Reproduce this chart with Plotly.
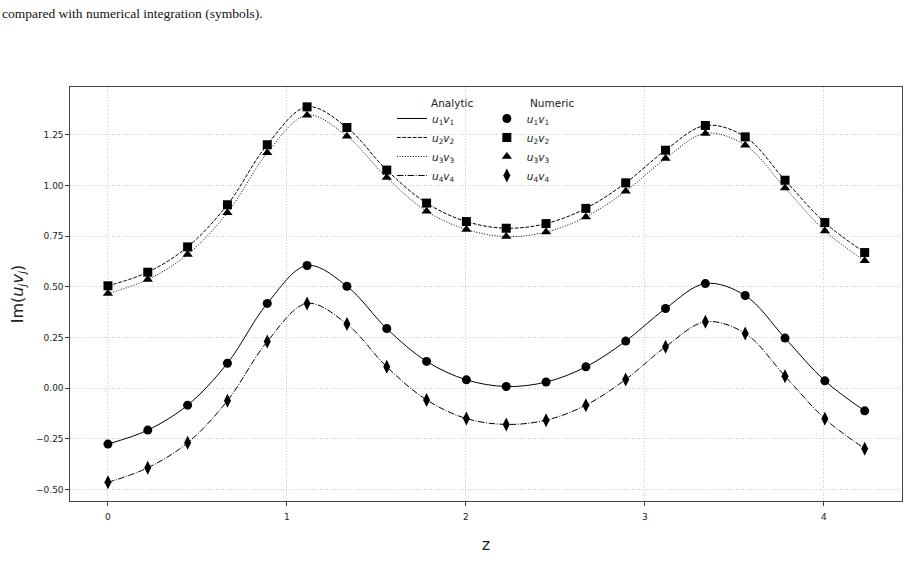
import plotly.graph_objects as go

# z sample positions
z = [0.0, 0.2225, 0.445, 0.6675, 0.89, 1.1125, 1.335, 1.5575, 1.78, 2.0025,
     2.225, 2.4475, 2.67, 2.8925, 3.115, 3.3375, 3.56, 3.7825, 4.005, 4.2275]

# Im(u_j v_j) values
u1v1 = [-0.276, -0.207, -0.084, 0.123, 0.418, 0.605, 0.503, 0.294, 0.132, 0.041,
        0.008, 0.030, 0.105, 0.232, 0.393, 0.516, 0.457, 0.247, 0.036, -0.112]
u2v2 = [0.505, 0.572, 0.697, 0.905, 1.201, 1.388, 1.286, 1.076, 0.913, 0.822,
        0.789, 0.812, 0.887, 1.013, 1.174, 1.296, 1.240, 1.026, 0.817, 0.669]
u3v3 = [0.467, 0.536, 0.660, 0.865, 1.161, 1.347, 1.243, 1.039, 0.873, 0.783,
        0.748, 0.770, 0.845, 0.972, 1.133, 1.257, 1.199, 0.988, 0.776, 0.628]
u4v4 = [-0.465, -0.393, -0.270, -0.062, 0.230, 0.418, 0.316, 0.105, -0.058, -0.150,
        -0.179, -0.158, -0.084, 0.043, 0.204, 0.327, 0.270, 0.059, -0.151, -0.299]

labels = ["<i>u</i><sub>1</sub><i>v</i><sub>1</sub>",
          "<i>u</i><sub>2</sub><i>v</i><sub>2</sub>",
          "<i>u</i><sub>3</sub><i>v</i><sub>3</sub>",
          "<i>u</i><sub>4</sub><i>v</i><sub>4</sub>"]
series = [u1v1, u2v2, u3v3, u4v4]
dashes = ["solid", "3.7px,1.6px", "1px,1.65px", "6.4px,1.6px,1px,1.6px"]
symbols = ["circle", "square", "triangle-up", "diamond-tall"]
msizes = [9, 9, 9, 10]

xticks = [0, 1, 2, 3, 4]
yticks = [-0.5, -0.25, 0.0, 0.25, 0.5, 0.75, 1.0, 1.25]

fig = go.Figure()
for lab, ys, d in zip(labels, series, dashes):
    fig.add_trace(go.Scatter(x=z, y=ys, mode="lines", name=lab,
                             line=dict(color="black", width=1, dash=d, shape="spline", smoothing=1.0),
                             legend="legend"))
for lab, ys, s, ms in zip(labels, series, symbols, msizes):
    fig.add_trace(go.Scatter(x=z, y=ys, mode="markers", name=lab,
                             marker=dict(color="black", symbol=s, size=ms, line=dict(width=0)),
                             legend="legend2"))

axis_common = dict(showline=True, mirror=True, linecolor="#444", linewidth=1.2,
                   ticks="outside", ticklen=3.5, tickwidth=0.8, tickcolor="#444",
                   showgrid=True, gridcolor="#cfcfcf", gridwidth=0.8, griddash="1px,1.6px",
                   zeroline=False, tickfont=dict(family="DejaVu Sans", size=9, color="#222"))

fig.update_layout(
    width=910, height=566,
    margin=dict(l=70, r=8, t=87, b=65),
    paper_bgcolor="white", plot_bgcolor="white",
    font=dict(family="DejaVu Sans", color="#222"),
    xaxis=dict(range=[-0.212, 4.436], tickvals=xticks, ticklabelstandoff=4,
               title=dict(text="z", font=dict(size=16), standoff=17), **axis_common),
    yaxis=dict(range=[-0.557, 1.486], tickvals=yticks, tickformat=".2f",
               title=dict(text="Im(<i>u<sub>j</sub>v<sub>j</sub></i>)", font=dict(size=16), standoff=8),
               **axis_common),
    legend=dict(x=0.387, y=0.959, xanchor="left", yanchor="top", bgcolor="rgba(0,0,0,0)",
                font=dict(size=10.5, color="#222"), tracegroupgap=0, itemwidth=30),
    legend2=dict(x=0.501, y=0.959, xanchor="left", yanchor="top", bgcolor="rgba(0,0,0,0)",
                 font=dict(size=10.5, color="#222"), tracegroupgap=0, itemwidth=30),
    showlegend=True,
)

fig.add_annotation(text="Analytic", xref="paper", yref="paper",
                   x=(429 - 70) / 832, y=1 - (103 - 87) / 414, xanchor="left", yanchor="middle",
                   showarrow=False, font=dict(size=10.5, color="#222"))
fig.add_annotation(text="Numeric", xref="paper", yref="paper",
                   x=(528 - 70) / 832, y=1 - (103 - 87) / 414, xanchor="left", yanchor="middle",
                   showarrow=False, font=dict(size=10.5, color="#222"))
fig.add_annotation(text="compared with numerical integration (symbols).", xref="paper", yref="paper",
                   x=-70 / 832, y=1 + (87 - 13) / 414, xanchor="left", yanchor="middle",
                   showarrow=False, font=dict(family="Liberation Serif", size=13.5, color="#111"))

fig.write_html("out.html")
